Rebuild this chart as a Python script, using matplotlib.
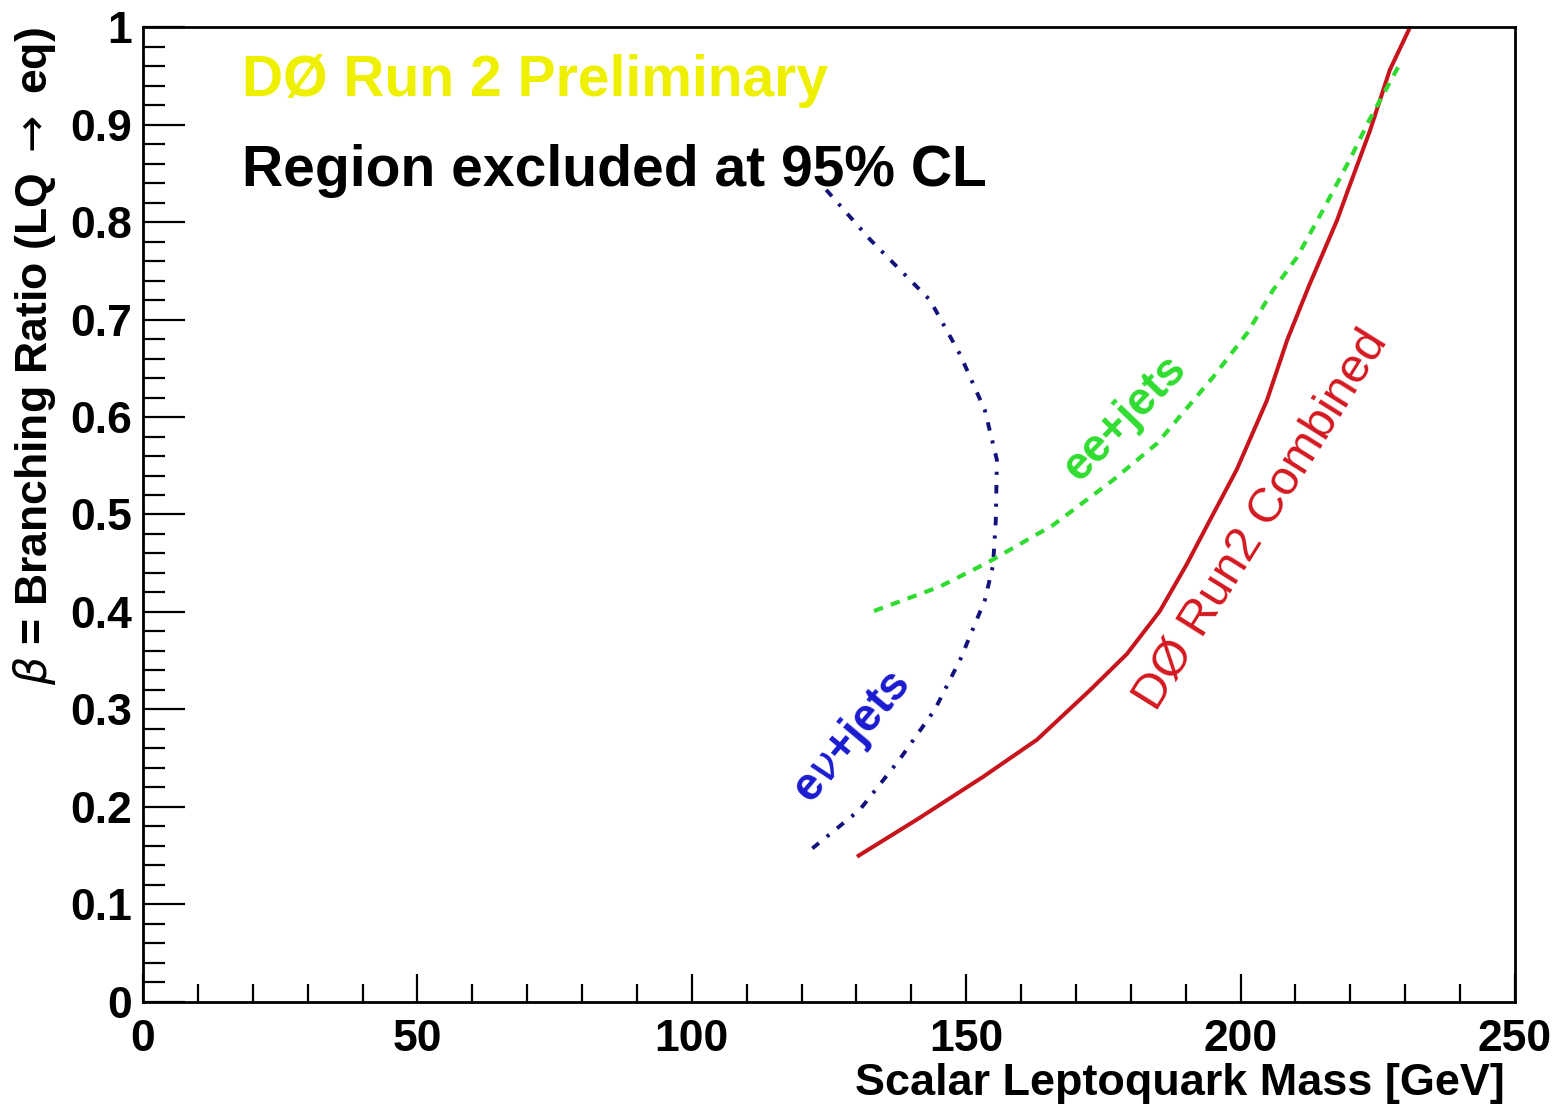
import numpy as np
import matplotlib.pyplot as plt

# exclusion contours: leptoquark mass [GeV] vs branching ratio beta
enu_mass = [124.5, 132.5, 143.4, 148.9, 153.4, 155.6, 155.4, 154.9, 153.4, 148.9, 144.3, 137.9, 130.6, 121.2]
enu_beta = [0.833, 0.782, 0.720, 0.664, 0.607, 0.556, 0.494, 0.448, 0.412, 0.351, 0.300, 0.249, 0.197, 0.154]

ee_mass = [133.2, 145.2, 154.0, 165.8, 176.7, 184.8, 195.0, 201.2, 205.9, 210.3, 215.0, 219.9, 223.5, 229.3]
ee_beta = [0.401, 0.426, 0.451, 0.489, 0.535, 0.573, 0.641, 0.686, 0.730, 0.764, 0.812, 0.864, 0.905, 0.965]

comb_mass = [130.1, 141.0, 153.1, 162.9, 172.6, 179.3, 185.3, 190.2, 194.4, 199.3, 204.8, 208.5, 212.5, 217.6, 219.4, 223.6, 227.2, 230.9]
comb_beta = [0.149, 0.187, 0.231, 0.269, 0.320, 0.357, 0.401, 0.449, 0.494, 0.546, 0.617, 0.679, 0.735, 0.802, 0.830, 0.894, 0.956, 1.000]

plt.rcParams['font.family'] = ['Liberation Sans', 'DejaVu Sans']

fig = plt.figure(figsize=(15.61, 11.08), dpi=100)
ax = fig.add_axes([0.0916, 0.0957, 0.9705 - 0.0916, 0.9756 - 0.0957])

ax.plot(enu_mass, enu_beta, color='#12127a', lw=2.8, linestyle=(0, (2.2, 2.6, 0.8, 2.6)))
ax.plot(comb_mass, comb_beta, color='#c8141c', lw=2.9, solid_capstyle='butt')
ax.plot(ee_mass, ee_beta, color='#30dc30', lw=3.0, linestyle=(0, (2.3, 2.0)))

ax.set_xlim(0, 250)
ax.set_ylim(0, 1)
ax.set_xticks(np.arange(0, 251, 50))
ax.set_xticks(np.arange(0, 251, 10), minor=True)
ax.set_yticks(np.arange(0, 1.01, 0.1))
ax.set_yticks(np.arange(0, 1.001, 0.02), minor=True)
ax.set_xticklabels(['0', '50', '100', '150', '200', '250'])
ax.set_yticklabels(['0', '0.1', '0.2', '0.3', '0.4', '0.5', '0.6', '0.7', '0.8', '0.9', '1'])

for s in ax.spines.values():
    s.set_linewidth(2.0)
ax.tick_params(axis='both', which='both', direction='in', top=False, right=False, width=1.6)
ax.tick_params(axis='y', which='major', length=30, pad=8)
ax.tick_params(axis='y', which='minor', length=16)
ax.tick_params(axis='x', which='major', length=20, pad=12)
ax.tick_params(axis='x', which='minor', length=13)
for lab in ax.get_xticklabels() + ax.get_yticklabels():
    lab.set_fontsize(32)
    lab.set_fontweight('bold')

fig.text(1505 / 1561, 1 - 1083 / 1108, 'Scalar Leptoquark Mass [GeV]', ha='right', va='center',
         fontsize=32.4, fontweight='bold')
fig.text(35 / 1561, 1 - 27 / 1108, r'$\beta$ = Branching Ratio (LQ $\rightarrow$ eq)', ha='center', va='top',
         rotation=90, fontsize=32, fontweight='bold')

ax.text(0.072, 0.945, 'DØ Run 2 Preliminary', transform=ax.transAxes, color='#eef000',
        fontsize=41, fontweight='bold', va='center', ha='left')
ax.text(0.072, 0.852, 'Region excluded at 95% CL', transform=ax.transAxes, color='black',
        fontsize=41, fontweight='bold', va='center', ha='left')

ax.text(129.2, 0.271, r'e$\nu$+jets', color='#1a1ad0', fontsize=33, fontweight='bold', rotation=50,
        ha='center', va='center', rotation_mode='anchor')
ax.text(178.9, 0.599, 'ee+jets', color='#30dc30', fontsize=33, fontweight='bold', rotation=46,
        ha='center', va='center', rotation_mode='anchor')
ax.text(203.9, 0.494, 'DØ Run2 Combined', color='#d41820', fontsize=35, rotation=58,
        ha='center', va='center', rotation_mode='anchor')

fig.savefig('out.png', dpi=100)
